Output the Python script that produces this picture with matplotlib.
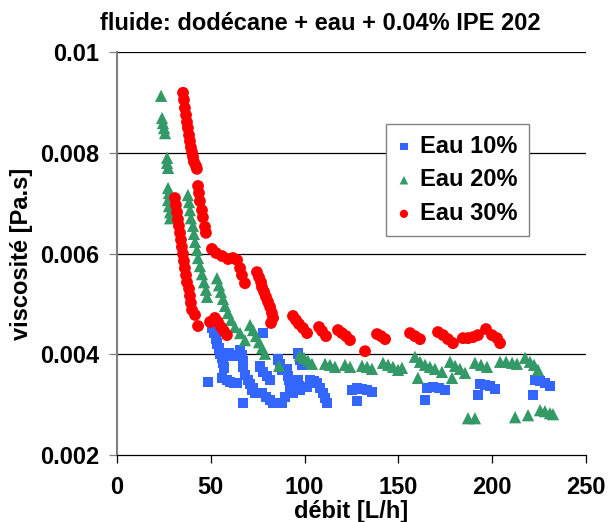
import matplotlib
matplotlib.use("Agg")
import matplotlib.pyplot as plt

plt.rcParams['font.family'] = ['Liberation Sans', 'DejaVu Sans']
plt.rcParams['font.weight'] = 'bold'

# --- data ---
blue_x = [50.6, 51.7, 52.8, 53.3, 54.4, 54.9, 56.0, 56.5, 57.0, 56.0, 48.5,
          58.6, 60.2, 62.4, 64.0, 59.7, 61.3, 65.6, 66.6, 67.2, 67.2,
          68.2, 69.8, 70.9, 72.5, 73.6, 67.2, 72.0, 77.3, 79.4, 81.6, 83.2,
          77.8, 76.2, 77.8, 80.0, 81.6, 85.8, 86.9, 88.0,
          90.6, 91.2, 91.7, 92.2, 88.0, 89.6, 92.2, 93.8,
          96.5, 97.5, 98.6, 96.5, 97.0, 97.5, 101.3,
          102.9, 105.0, 106.6, 108.2, 109.8, 110.9, 111.9,
          125.3, 127.9, 130.6, 133.3, 135.9, 127.9,
          165.2, 168.4, 171.6, 174.8, 164.2,
          193.5, 196.2, 198.8, 201.5, 192.4,
          222.8, 225.5, 228.1, 230.8, 221.7]
blue_y = [0.00452, 0.00442, 0.00432, 0.00422, 0.00412, 0.00402, 0.00393, 0.00383, 0.00373, 0.00353, 0.00345,
          0.00349, 0.00345, 0.00343, 0.00343, 0.00402, 0.00397, 0.00408, 0.00397, 0.00385, 0.00375,
          0.00359, 0.00349, 0.00341, 0.00333, 0.00323, 0.00303, 0.00329, 0.00323, 0.00315, 0.00309, 0.00303,
          0.00442, 0.00375, 0.00365, 0.00357, 0.00349, 0.00389, 0.00379, 0.00369,
          0.00369, 0.00357, 0.00349, 0.00339, 0.00303, 0.00315, 0.00325, 0.00323,
          0.00402, 0.00389, 0.00379, 0.00349, 0.00337, 0.00329, 0.00335,
          0.00349, 0.00347, 0.00343, 0.00333, 0.00323, 0.00313, 0.00303,
          0.00329, 0.00333, 0.00331, 0.00329, 0.00325, 0.00307,
          0.00333, 0.00335, 0.00333, 0.00329, 0.00309,
          0.00341, 0.00339, 0.00337, 0.00331, 0.00319,
          0.00349, 0.00347, 0.00343, 0.00337, 0.00319]

green_x = [23.5, 24.0, 24.5, 25.1, 25.6, 26.7, 26.7, 27.2, 27.2, 27.7, 27.2, 27.7, 28.3, 28.3,
           37.8, 38.4, 38.9, 39.4, 40.5, 41.0, 41.6, 42.6, 43.2, 44.2, 45.3, 46.4, 47.4, 48.0,
           53.3, 54.4, 55.4, 56.5, 57.6, 59.2, 60.8, 62.9, 65.6, 68.2,
           70.9, 72.5, 74.1, 75.7, 77.3, 78.9, 86.4,
           97.5, 99.7, 101.8, 103.9, 110.9, 113.5, 116.2, 121.5, 124.2, 130.6, 133.3, 135.9,
           141.8, 144.5, 147.1, 149.8, 151.9, 158.8, 161.5, 164.2, 166.8, 169.5, 173.2, 160.4,
           177.5, 180.2, 182.8, 185.5, 178.6, 190.8, 194.0, 197.2, 204.2, 207.4, 210.6, 213.2,
           217.5, 220.1, 222.3, 224.4,
           187.1, 190.8, 212.2, 219.1, 225.5, 228.1, 230.8, 232.4]
green_y = [0.00913, 0.00869, 0.00859, 0.00849, 0.00839, 0.00790, 0.00780, 0.00770, 0.00730, 0.00720, 0.00706, 0.00694, 0.00682, 0.00670,
           0.00716, 0.00702, 0.00686, 0.00670, 0.00655, 0.00639, 0.00623, 0.00607, 0.00591, 0.00575, 0.00559, 0.00543, 0.00528, 0.00514,
           0.00551, 0.00537, 0.00524, 0.00510, 0.00496, 0.00482, 0.00468, 0.00454, 0.00442, 0.00428,
           0.00458, 0.00448, 0.00436, 0.00424, 0.00412, 0.00401, 0.00377,
           0.00398, 0.00393, 0.00387, 0.00381, 0.00381, 0.00379, 0.00375, 0.00379, 0.00375, 0.00377, 0.00375, 0.00371,
           0.00383, 0.00379, 0.00375, 0.00369, 0.00373, 0.00395, 0.00385, 0.00379, 0.00375, 0.00371, 0.00365, 0.00353,
           0.00385, 0.00377, 0.00371, 0.00363, 0.00353, 0.00383, 0.00379, 0.00375, 0.00385, 0.00385, 0.00383, 0.00381,
           0.00393, 0.00385, 0.00379, 0.00369,
           0.00273, 0.00273, 0.00275, 0.00279, 0.00289, 0.00287, 0.00283, 0.00281]

red_x = [35.2, 35.7, 36.2, 36.8, 37.3, 37.8, 38.4, 38.9, 39.4, 40.0, 40.5, 41.0, 42.1, 42.6,
         43.2, 43.7, 44.2, 45.3, 45.8, 46.9, 47.4, 50.6, 52.8, 56.0, 59.2, 61.8, 64.0, 65.6, 66.6, 68.2,
         74.6, 75.7, 76.8, 77.3, 78.4, 79.4, 80.5, 81.6, 82.6, 83.2, 82.1,
         93.8, 95.4, 97.0, 99.1, 101.3, 107.7, 109.3, 111.4, 117.8, 119.9, 122.1, 124.2, 132.2,
         138.6, 140.7, 142.9, 156.2, 158.8, 161.5, 171.1, 173.8, 176.4, 179.1,
         184.4, 187.1, 189.8, 192.4, 196.7, 199.9, 202.6, 204.2,
         30.9, 31.4, 32.0, 32.5, 33.0, 33.6, 34.1, 34.6, 35.2, 35.7, 36.2, 36.8, 37.3, 38.4, 38.9, 39.4, 40.0, 41.6,
         43.2, 49.6, 52.2, 53.8, 55.4, 57.0, 58.6]
red_y = [0.00919, 0.00905, 0.00889, 0.00875, 0.00861, 0.00849, 0.00835, 0.00823, 0.00811, 0.00801, 0.00792, 0.00782, 0.00774, 0.00768,
         0.00734, 0.00720, 0.00704, 0.00686, 0.00672, 0.00653, 0.00641, 0.00609, 0.00601, 0.00595, 0.00589, 0.00591, 0.00587, 0.00571, 0.00557, 0.00541,
         0.00563, 0.00553, 0.00543, 0.00533, 0.00524, 0.00514, 0.00504, 0.00494, 0.00482, 0.00472, 0.00462,
         0.00476, 0.00468, 0.00460, 0.00452, 0.00442, 0.00454, 0.00446, 0.00436, 0.00448, 0.00442, 0.00436, 0.00428, 0.00406,
         0.00440, 0.00436, 0.00430, 0.00442, 0.00436, 0.00430, 0.00444, 0.00438, 0.00430, 0.00422,
         0.00432, 0.00432, 0.00434, 0.00438, 0.00450, 0.00438, 0.00432, 0.00422,
         0.00710, 0.00696, 0.00682, 0.00668, 0.00655, 0.00641, 0.00627, 0.00613, 0.00599, 0.00585, 0.00571, 0.00557, 0.00543, 0.00530, 0.00516, 0.00502, 0.00488, 0.00478,
         0.00456, 0.00464, 0.00472, 0.00464, 0.00454, 0.00446, 0.00438]

series_labels = ['Eau 10%', 'Eau 20%', 'Eau 30%']
x_ticks = [0, 50, 100, 150, 200, 250]
y_ticks = [0.002, 0.004, 0.006, 0.008, 0.01]
y_tick_labels = ['0.002', '0.004', '0.006', '0.008', '0.01']

FS = 17

fig = plt.figure(figsize=(6.08, 5.22), dpi=100)
ax = fig.add_axes([117 / 608, 1 - 455 / 522, 469 / 608, 403 / 522])

ax.scatter(blue_x, blue_y, marker='s', s=60, color='#3366FF', edgecolors='none',
           label=series_labels[0], zorder=3)
ax.scatter(green_x, green_y, marker='^', s=78, color='#339966', edgecolors='none',
           label=series_labels[1], zorder=4)
ax.scatter(red_x, red_y, marker='o', s=72, color='#FF0000', edgecolors='none',
           label=series_labels[2], zorder=5)

ax.set_xlim(0, 250)
ax.set_ylim(0.002, 0.01)
ax.set_xticks(x_ticks)
ax.set_yticks(y_ticks)
ax.set_yticklabels(y_tick_labels)

for y in y_ticks[1:]:
    ax.axhline(y, color='black', lw=0.9, zorder=1)

ax.spines['top'].set_visible(False)
ax.spines['right'].set_visible(False)
ax.spines['left'].set_color('#808080')
ax.spines['left'].set_linewidth(1.5)
ax.spines['bottom'].set_color('black')
ax.spines['bottom'].set_linewidth(0.9)

ax.tick_params(axis='x', direction='out', length=6, width=0.9, pad=9,
               labelsize=FS, colors='black')
ax.tick_params(axis='y', direction='out', length=6, width=0.9, pad=7,
               labelsize=FS, color='#808080', labelcolor='black')
for lab in ax.get_xticklabels() + ax.get_yticklabels():
    lab.set_fontweight('bold')

ax.set_xlabel('débit [L/h]', fontsize=FS, fontweight='bold')
ax.xaxis.set_label_coords(0.5, -0.14)
ax.xaxis.label.set_verticalalignment('center')
ax.set_ylabel('viscosité [Pa.s]', fontsize=FS, fontweight='bold')
ax.yaxis.set_label_coords(-0.203, 0.5)
ax.yaxis.label.set_verticalalignment('center')

fig.text(320 / 608, 1 - 23 / 522, 'fluide: dodécane + eau + 0.04% IPE 202',
         ha='center', va='center', fontsize=FS, fontweight='bold')

leg = ax.legend(loc='upper left', bbox_to_anchor=(0.574, 0.821), borderaxespad=0,
                frameon=True, fancybox=False, framealpha=1, edgecolor='#808080',
                prop={'size': FS, 'weight': 'bold'}, handlelength=0.6,
                handletextpad=0.4, labelspacing=0.45, borderpad=0.45,
                markerscale=0.7, scatterpoints=1)
leg.get_frame().set_linewidth(1.0)
leg.set_zorder(10)

fig.savefig('out.png', dpi=100)
